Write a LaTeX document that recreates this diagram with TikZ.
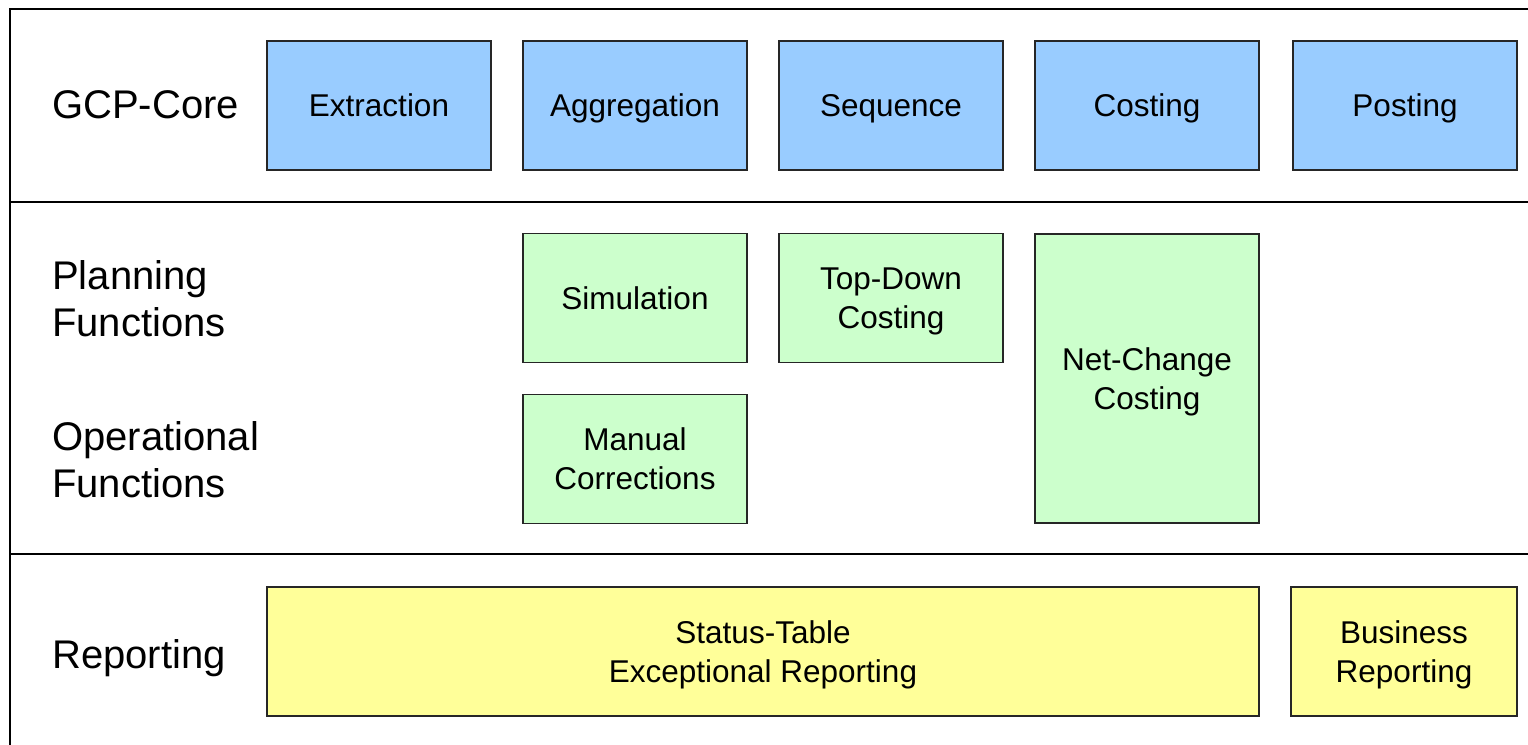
\documentclass[tikz,border=0pt]{standalone}
\usepackage{fontspec}
\setmainfont{Liberation Sans}
\begin{document}
\begin{tikzpicture}[x=1pt,y=-1pt,
  boxtext/.style={font=\fontsize{31.5}{39}\selectfont},
  oneline/.style={text height=24pt,text depth=1.8pt},
  twoline/.style={text depth=0pt},
  lanelabel/.style={anchor=west,inner sep=0pt,align=left,font=\fontsize{40}{47}\selectfont},
  block/.style={draw=black!85,line width=1.3pt,inner sep=0pt,align=center,boxtext,
    minimum width=224pt,minimum height=129pt},
  core/.style={block,oneline,fill=coreblue},
  func/.style={block,twoline,fill=funcgreen},
  report/.style={block,twoline,fill=reportyellow},
  frame/.style={line width=2pt,black}]
\definecolor{coreblue}{HTML}{99CCFF}
\definecolor{funcgreen}{HTML}{CCFFCC}
\definecolor{reportyellow}{HTML}{FFFF99}
\useasboundingbox (0,0) rectangle (1528,744);

% lane frame, open to the right and bottom
\draw[frame] (1532,9) -- (10,9) -- (10,748);
\draw[frame] (10,202) -- (1532,202);
\draw[frame] (10,554) -- (1532,554);

% lane labels
\node[lanelabel] (lcore) at (52,105) {GCP-Core};
\node[lanelabel] (lplan) at (52,299) {Planning\\Functions};
\node[lanelabel] (lops)  at (52,460) {Operational\\Functions};
\node[lanelabel] (lrep)  at (52,658) {Reporting};

% core process steps
\node[core] (extraction)  at (379,105.5)  {Extraction};
\node[core] (aggregation) at (635,105.5)  {Aggregation};
\node[core] (sequence)    at (891,105.5)  {Sequence};
\node[core] (costing)     at (1147,105.5) {Costing};
\node[core] (posting)     at (1405,105.5) {Posting};

% planning and operational functions
\node[func,oneline] (simulation) at (635,298) {Simulation};
\node[func] (topdown)    at (891,298) {Top-Down\\Costing};
\node[func,minimum height=289pt] (netchange) at (1147,378.5) {Net-Change\\Costing};
\node[func] (manual)     at (635,459) {Manual\\Corrections};

% reporting
\node[report,minimum width=992pt] (status) at (763,651.5) {Status-Table\\Exceptional Reporting};
\node[report,minimum width=226pt] (business) at (1404,651.5) {Business\\Reporting};
\end{tikzpicture}
\end{document}
